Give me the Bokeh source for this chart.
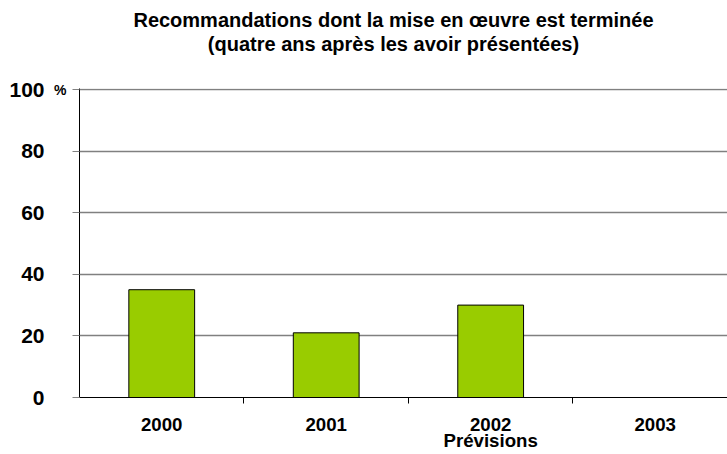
from bokeh.plotting import figure
from bokeh.models import Range1d, FixedTicker, LinearAxis, Title
from bokeh.embed import file_html
from bokeh.resources import INLINE

years = ["2000", "2001", "2002", "2003"]
values = [35, 21, 30, 0]
x_labels = ["2000", "2001", "2002\nPrévisions", "2003"]
y_ticks = [0, 20, 40, 60, 80, 100]
unit = "%"
title_lines = ["Recommandations dont la mise en œuvre est terminée",
               "(quatre ans après les avoir présentées)"]

xs = [i + 0.5 for i in range(len(years))]

p = figure(width=727, height=454, output_backend="svg", toolbar_location=None,
           x_range=Range1d(0, 3.94), y_range=Range1d(0, 100.33),
           y_axis_location=None,
           min_border_left=79, min_border_right=0, min_border_top=88, min_border_bottom=57)
p.outline_line_color = None
p.background_fill_color = "white"

p.vbar(x=[x for x, v in zip(xs, values) if v > 0], top=[v for v in values if v > 0],
       width=0.40, fill_color="#99cc00", line_color="black", line_width=1)

# x axis
p.xaxis.ticker = FixedTicker(ticks=xs, minor_ticks=[1, 2, 3])
p.xaxis.major_label_overrides = {x: l for x, l in zip(xs, x_labels)}
p.xaxis.major_tick_line_color = None
p.xaxis.major_tick_out = 0
p.xaxis.major_tick_in = 0
p.xaxis.minor_tick_out = 6
p.xaxis.minor_tick_in = 0
p.xaxis.minor_tick_line_color = "black"
p.xaxis.axis_line_color = "black"
p.xaxis.major_label_text_font = "Liberation Sans"
p.xaxis.major_label_text_font_style = "bold"
p.xaxis.major_label_text_font_size = "14pt"
p.xaxis.major_label_text_line_height = 0.8
p.xaxis.major_label_text_color = "black"
p.xaxis.major_label_standoff = 10

# inner y axis: axis line, ticks and the unit sign
ax_in = LinearAxis(ticker=FixedTicker(ticks=y_ticks))
ax_in.major_label_overrides = {t: (unit if t == 100 else "") for t in y_ticks}
ax_in.minor_tick_line_color = None
ax_in.major_tick_out = 7
ax_in.major_tick_in = 0
ax_in.major_tick_line_color = "#808080"
ax_in.axis_line_color = "black"
ax_in.major_label_text_font = "Liberation Sans"
ax_in.major_label_text_font_style = "bold"
ax_in.major_label_text_font_size = "14px"
ax_in.major_label_text_color = "black"
ax_in.major_label_standoff = 6
p.add_layout(ax_in, "left")

# outer y axis: numbers only
ax_out = LinearAxis(ticker=FixedTicker(ticks=y_ticks))
ax_out.minor_tick_line_color = None
ax_out.major_tick_line_color = None
ax_out.major_tick_out = 0
ax_out.major_tick_in = 0
ax_out.axis_line_color = None
ax_out.major_label_text_font = "Liberation Sans"
ax_out.major_label_text_font_style = "bold"
ax_out.major_label_text_font_size = "21px"
ax_out.major_label_text_color = "black"
ax_out.major_label_standoff = 7
p.add_layout(ax_out, "left")

p.xgrid.grid_line_color = None
p.ygrid.ticker = FixedTicker(ticks=y_ticks)
p.ygrid.grid_line_color = "#808080"
p.ygrid.grid_line_width = 1.5

# invisible spacer between the plot and the title
spacer = LinearAxis(ticker=FixedTicker(ticks=[xs[0]]), major_tick_out=34, major_tick_in=0,
                    axis_line_color=None, major_tick_line_color=None,
                    minor_tick_line_color=None, major_label_standoff=0,
                    major_label_overrides={xs[0]: ""},
                    major_label_text_font_size="0px")
p.add_layout(spacer, "above")

pad = "\u2002\u2002"
title_style = dict(align="center", vertical_align="bottom", text_font="Liberation Sans",
                   text_font_style="bold", text_font_size="20px", text_color="black",
                   standoff=0)
p.add_layout(Title(text=title_lines[1] + pad, **title_style), "above")
p.add_layout(Title(text=title_lines[0] + pad, **title_style), "above")

open("out.html", "w").write(file_html(p, INLINE))
